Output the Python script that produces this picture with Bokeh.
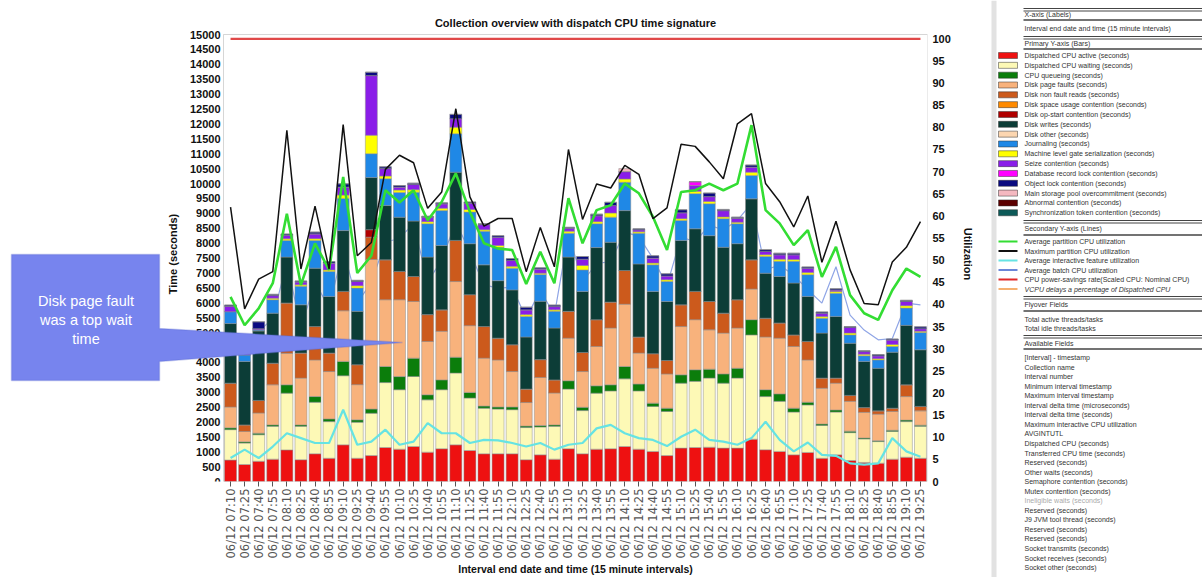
import math
from bokeh.plotting import figure
from bokeh.models import (Range1d, LinearAxis, FixedTicker, ColumnDataSource, PolyAnnotation, Label,
                          BoxAnnotation)
from bokeh.layouts import row
from bokeh.embed import file_html
from bokeh.resources import INLINE
from bokeh.core.properties import value

times = ["07:10", "07:25", "07:40", "07:55", "08:10", "08:25", "08:40", "08:55", "09:10", "09:25",
         "09:40", "09:55", "10:10", "10:25", "10:40", "10:55", "11:10", "11:25", "11:40", "11:55",
         "12:10", "12:25", "12:40", "12:55", "13:10", "13:25", "13:40", "13:55", "14:10", "14:25",
         "14:40", "14:55", "15:10", "15:25", "15:40", "15:55", "16:10", "16:25", "16:40", "16:55",
         "17:10", "17:25", "17:40", "17:55", "18:10", "18:25", "18:40", "18:55", "19:10", "19:25"]
labels = ["06/12 " + t for t in times]

# ---- bar segments (seconds) ----
cpu_active = [720, 570, 680, 750, 1060, 730, 930, 780, 1230, 780,
              870, 1140, 1085, 1175, 985, 1100, 1230, 1040, 930, 930,
              930, 730, 895, 750, 1100, 930, 1085, 1100, 1175, 1085,
              1005, 870, 1120, 1140, 1150, 1120, 1120, 1420, 1065, 1010,
              895, 975, 780, 895, 705, 640, 615, 750, 815, 780]
cpu_waiting = [1020, 720, 890, 1100, 1905, 1120, 1730, 1230, 2320, 1210,
               1420, 2180, 1995, 2350, 1755, 1980, 2410, 1760, 1530, 1500,
               1480, 1080, 935, 1100, 2000, 1450, 1880, 1940, 2270, 1955,
               1515, 1480, 2180, 2220, 2320, 2180, 2350, 3500, 1785, 1680,
               1435, 1595, 1100, 1435, 935, 790, 725, 930, 1195, 1070]
cpu_queueing = [60, 40, 50, 50, 280, 50, 190, 90, 480, 80,
                140, 540, 440, 615, 170, 330, 530, 190, 70, 70,
                90, 50, 50, 50, 280, 110, 245, 205, 415, 230,
                110, 110, 280, 390, 300, 310, 330, 510, 230, 250,
                130, 90, 50, 70, 50, 30, 30, 40, 50, 40]
page_faults = [700, 350, 680, 1345, 1055, 1570, 1230, 1590, 1700, 1180,
               5020, 2240, 2580, 1900, 1790, 1630, 2540, 2240, 1610, 1580,
               1190, 790, 1610, 1070, 1430, 1200, 1320, 1905, 2090, 1040,
               1170, 1150, 1620, 1680, 1320, 1370, 1350, 1030, 1770, 1870,
               2070, 1420, 1200, 900, 1000, 860, 890, 630, 790, 480]
non_fault_reads = [800, 220, 420, 725, 1690, 840, 1120, 620, 650, 670,
                   750, 1340, 950, 840, 900, 720, 1380, 1040, 1060, 730,
                   900, 450, 600, 440, 900, 640, 900, 870, 1130, 540,
                   490, 450, 730, 950, 950, 670, 950, 980, 630, 510,
                   390, 620, 340, 170, 200, 160, 110, 110, 395, 150]
op_start = [0, 0, 0, 0, 0, 0, 0, 0, 0, 0,
            250, 0, 0, 0, 0, 0, 0, 0, 0, 0,
            0, 0, 0, 0, 0, 0, 0, 0, 0, 0,
            0, 0, 0, 0, 0, 0, 0, 0, 0, 0,
            0, 0, 0, 0, 0, 0, 0, 0, 0, 0]
disk_writes = [2000, 2130, 2330, 1680, 1540, 1620, 1960, 1900, 2040, 1790,
               1750, 1820, 1820, 1860, 1930, 2160, 2290, 1710, 2070, 1930,
               1840, 1750, 1960, 1740, 1820, 2050, 2420, 2010, 2010, 2450,
               2090, 1980, 2160, 2100, 2210, 2210, 1880, 2045, 1510, 1560,
               1740, 1510, 1510, 2070, 1750, 1550, 1430, 1880, 1995, 1900]
journaling = [400, 220, 40, 450, 560, 620, 930, 840, 1080, 780,
              800, 900, 830, 970, 1120, 1170, 1290, 1060, 1130, 1110,
              730, 690, 900, 560, 800, 720, 800, 840, 950, 1030,
              890, 670, 670, 1180, 1070, 960, 670, 785, 560, 510,
              730, 730, 500, 780, 280, 190, 280, 190, 580, 580]
gate_serial = [0, 0, 0, 50, 55, 50, 60, 50, 110, 80,
               620, 90, 80, 80, 70, 80, 220, 90, 50, 70,
               60, 60, 40, 50, 70, 150, 70, 140, 110, 50,
               60, 60, 60, 80, 80, 60, 50, 110, 60, 70,
               60, 70, 60, 60, 60, 50, 40, 70, 80, 40]
seize = [180, 80, 40, 90, 115, 100, 160, 230, 270, 145,
         2000, 250, 100, 175, 150, 150, 285, 210, 170, 280,
         200, 160, 140, 110, 100, 210, 200, 250, 250, 70,
         170, 130, 200, 190, 160, 210, 130, 170, 110, 150,
         160, 150, 110, 50, 190, 90, 100, 150, 140, 90]
db_lock = [0, 0, 0, 0, 0, 0, 0, 0, 0, 0,
           0, 0, 0, 0, 0, 0, 0, 0, 0, 0,
           0, 0, 0, 0, 0, 0, 0, 0, 0, 0,
           0, 0, 0, 130, 0, 0, 0, 0, 0, 0,
           0, 0, 0, 0, 0, 0, 0, 0, 0, 0]
object_lock = [40, 30, 230, 40, 45, 30, 60, 50, 110, 35,
               115, 60, 50, 45, 30, 30, 145, 40, 30, 50,
               60, 90, 40, 50, 30, 90, 50, 110, 0, 30,
               75, 70, 100, 0, 120, 40, 40, 70, 60, 50,
               50, 40, 40, 40, 30, 30, 40, 30, 40, 60]
storage_pool = [0, 0, 0, 0, 0, 0, 0, 0, 0, 0,
                0, 0, 0, 0, 0, 0, 0, 0, 0, 0,
                0, 0, 0, 0, 0, 0, 0, 0, 100, 0,
                0, 0, 0, 0, 0, 0, 0, 0, 0, 0,
                0, 0, 0, 0, 0, 0, 0, 0, 0, 0]

# ---- lines (utilization %) ----
avg_partition = [41.7, 35.3, 39.1, 44.8, 60.5, 44.4, 53.8, 47.8, 68.8, 47.1,
                 51.0, 65.8, 63.0, 65.8, 59.0, 63.2, 69.6, 60.9, 53.8, 52.6,
                 52.3, 44.6, 51.9, 44.8, 64.0, 53.8, 61.3, 62.4, 67.3, 65.1,
                 59.8, 52.3, 65.4, 65.8, 67.3, 65.8, 67.3, 80.5, 61.3, 58.3,
                 53.4, 56.8, 46.2, 53.0, 42.1, 38.0, 36.5, 43.2, 48.1, 46.2]
max_partition = [62.0, 39.0, 45.7, 47.4, 79.3, 48.0, 62.2, 48.0, 80.6, 51.0,
                 54.0, 70.5, 73.7, 72.0, 61.7, 65.4, 84.2, 64.3, 57.7, 59.4,
                 59.4, 47.4, 57.4, 48.5, 75.0, 59.2, 67.2, 66.3, 71.4, 69.4,
                 59.4, 61.8, 76.2, 75.7, 72.2, 68.4, 80.8, 83.1, 67.3, 63.2,
                 57.5, 64.5, 49.5, 58.8, 47.8, 40.2, 39.9, 49.6, 52.9, 58.7]
avg_interactive = [5.3, 7.2, 5.3, 7.9, 10.9, 9.8, 8.7, 8.7, 16.2, 8.3,
                   9.0, 11.7, 8.3, 9.0, 13.2, 10.9, 10.9, 8.7, 9.4, 9.3,
                   8.7, 7.9, 8.7, 7.2, 8.3, 8.7, 12.0, 12.8, 10.9, 9.8,
                   9.4, 8.0, 10.1, 11.7, 9.4, 9.0, 8.3, 9.8, 13.5, 9.4,
                   6.8, 8.8, 6.0, 5.8, 4.1, 3.8, 4.1, 9.8, 6.8, 5.6]
avg_batch = [36.4, 28.1, 33.8, 36.9, 49.6, 34.6, 45.1, 39.1, 52.6, 40.3,
             45.0, 54.1, 54.9, 58.3, 45.1, 50.0, 58.7, 51.8, 44.4, 43.7,
             43.9, 36.9, 43.2, 37.6, 56.0, 45.1, 49.3, 49.6, 56.4, 55.3,
             50.4, 44.3, 55.3, 54.1, 57.9, 56.8, 59.0, 62.8, 47.8, 48.9,
             46.6, 43.3, 40.3, 48.5, 37.6, 34.2, 32.0, 32.3, 40.3, 39.9]
power_savings = [100] * 50

bar_legend = ["Dispatched CPU active (seconds)", "Dispatched CPU waiting (seconds)", "CPU queueing (seconds)",
              "Disk page faults (seconds)", "Disk non fault reads (seconds)", "Disk space usage contention (seconds)",
              "Disk op-start contention (seconds)", "Disk writes (seconds)", "Disk other (seconds)",
              "Journaling (seconds)", "Machine level gate serialization (seconds)", "Seize contention (seconds)",
              "Database record lock contention (seconds)", "Object lock contention (seconds)",
              "Main storage pool overcommitment (seconds)", "Abnormal contention (seconds)",
              "Synchronization token contention (seconds)"]
bar_colors = ["#ee1111", "#fdf9b6", "#0b7d0b", "#f8b27c", "#cc5a1c", "#ff8a00", "#b00000", "#0c3d37",
              "#fcd6b0", "#1f88e6", "#ffff00", "#8a1de8", "#ff00ff", "#0a0a80", "#f4b8c0", "#5c0000", "#0c5a58"]
line_legend = ["Average partition CPU utilization", "Maximum partition CPU utilization",
               "Average interactive feature utilization", "Average batch CPU utilization",
               "CPU power-savings rate(Scaled CPU: Nominal CPU)", "VCPU delays a percentage of Dispatched CPU"]
line_colors = ["#33dd33", "#111111", "#66e3e3", "#6a86d8", "#e02828", "#f5b070"]
avail_fields = ["[Interval] - timestamp", "Collection name", "Interval number", "Minimum interval timestamp",
                "Maximum interval timestamp", "Interval delta time (microseconds)", "Interval delta time (seconds)",
                "Maximum interactive CPU utilization", "AVGINTUTL", "Dispatched CPU (seconds)",
                "Transferred CPU time (seconds)", "Reserved (seconds)", "Other waits (seconds)",
                "Semaphore contention (seconds)", "Mutex contention (seconds)", "Ineligible waits (seconds)",
                "Reserved (seconds)", "J9 JVM tool thread (seconds)", "Reserved (seconds)", "Reserved (seconds)",
                "Socket transmits (seconds)", "Socket receives (seconds)", "Socket other (seconds)"]

# ---------------- layout constants (page pixels) ----------------
FONT = "Liberation Sans"
PXU = 14.08            # px per category
AX_LEFT = 223          # page x of the left axis
F_TOP, F_BOT = 34, 481 # page y of the 15000 / 0 lines
FRAME_TOP = 26         # frame starts a little above the 15000 line so its tick label is not cut
x_start = -0.5 - AX_LEFT / PXU
y_end = 15000 * (F_BOT - FRAME_TOP) / (F_BOT - F_TOP)
u_end = 100 * (F_BOT - FRAME_TOP) / (F_BOT - 38.3)

def dx(px):
    return -0.5 + (px - AX_LEFT) / PXU

def dy(py):
    return (F_BOT - py) / (F_BOT - F_TOP) * 15000

idx = list(range(len(labels)))

p = figure(width=985, height=577, x_range=Range1d(x_start, 49.5), y_range=Range1d(0, y_end),
           toolbar_location=None, output_backend="svg", y_axis_location=None,
           min_border_left=0, min_border_right=58, min_border_top=FRAME_TOP, min_border_bottom=577 - F_BOT)
p.frame_align = False
p.grid.visible = False
p.outline_line_color = None
p.background_fill_color = "white"
p.extra_y_ranges = {"util": Range1d(0, u_end)}

# plot-area border
p.add_layout(BoxAnnotation(left=-0.5, right=49.5, bottom=0, top=15000, fill_alpha=0,
                           line_color="#777777", line_width=1, level="underlay"))

# batch line sits behind the bars
p.line(idx, avg_batch, y_range_name="util", line_color="#8fa5e6", line_width=1.2)

stack_keys = ["cpu_active", "cpu_waiting", "cpu_queueing", "page_faults", "non_fault_reads", "op_start",
              "disk_writes", "journaling", "gate_serial", "seize", "db_lock", "object_lock", "storage_pool"]
stack_cols = [bar_colors[i] for i in [0, 1, 2, 3, 4, 6, 7, 9, 10, 11, 12, 13, 14]]
src = ColumnDataSource(dict(x=idx, cpu_active=cpu_active, cpu_waiting=cpu_waiting, cpu_queueing=cpu_queueing,
                            page_faults=page_faults, non_fault_reads=non_fault_reads, op_start=op_start,
                            disk_writes=disk_writes, journaling=journaling, gate_serial=gate_serial,
                            seize=seize, db_lock=db_lock, object_lock=object_lock, storage_pool=storage_pool))
p.vbar_stack(stack_keys, x="x", width=0.85, source=src, fill_color=stack_cols,
             line_color="#8c8c8c", line_width=0.5)

p.line(idx, avg_interactive, y_range_name="util", line_color="#66e3e3", line_width=2.2)
p.line(idx, avg_partition, y_range_name="util", line_color="#33dd33", line_width=2.6)
p.line(idx, max_partition, y_range_name="util", line_color="#111111", line_width=1.5)
p.line(idx, power_savings, y_range_name="util", line_color="#e04848", line_width=2.2)

left = LinearAxis(fixed_location=-0.5, axis_label="Time (seconds)",
                  ticker=FixedTicker(ticks=list(range(0, 15001, 500))))
p.add_layout(left, "left")
right = LinearAxis(y_range_name="util", axis_label="Utilization", ticker=FixedTicker(ticks=list(range(0, 101, 5))))
p.add_layout(right, "right")
for ax in (left, right):
    ax.major_label_text_font = FONT
    ax.major_label_text_font_size = "11px"
    ax.major_label_text_font_style = "bold"
    ax.major_label_text_color = "#111111"
    ax.major_tick_line_color = None
    ax.minor_tick_line_color = None
    ax.major_tick_out = 0
    ax.major_tick_in = 0
    ax.minor_tick_out = 0
    ax.axis_line_color = None
    ax.major_label_standoff = 3
    ax.axis_label_standoff = 8
    ax.axis_label_text_font = FONT
    ax.axis_label_text_font_size = "11px"
    ax.axis_label_text_font_style = "bold"
    ax.axis_label_text_color = "#111111"
right.major_label_standoff = 5

xa = p.xaxis[0]
xa.ticker = FixedTicker(ticks=idx)
xa.major_label_overrides = {i: lab for i, lab in enumerate(labels)}
xa.major_label_orientation = math.pi / 2
xa.major_label_text_font = "DejaVu Sans"
xa.major_label_text_font_size = "11.5px"
xa.major_label_text_color = "#555555"
xa.major_tick_out = 5
xa.major_tick_in = 0
xa.major_tick_line_color = "#555555"
xa.minor_tick_line_color = None
xa.axis_line_color = None
xa.major_label_standoff = 2

p.add_layout(Label(x=24.5, y=dy(568), text="Interval end date and time (15 minute intervals)",
                   text_align="center", text_baseline="middle", text_font=FONT, text_font_size="10.5px",
                   text_font_style="bold", text_color="#111111"), "below")
p.add_layout(Label(x=24.5, y=dy(22), text="Collection overview with dispatch CPU time signature",
                   text_align="center", text_baseline="middle", text_font=FONT, text_font_size="11px",
                   text_font_style="bold", text_color="#111111"), "above")

# callout
cx = [11, 159, 159, 402, 159, 159, 11]
cy = [254, 254, 328, 342, 361, 380, 380]
p.add_layout(PolyAnnotation(xs=[dx(v) for v in cx], ys=[dy(v) for v in cy], fill_color="#7784ee",
                            fill_alpha=1.0, line_color="#5566cc", line_width=1.5))
for txt, yy in [("Disk page fault", 300), ("was a top wait", 319), ("time", 338)]:
    p.add_layout(Label(x=dx(85.5), y=dy(yy), text=txt, text_align="center", text_baseline="middle",
                       text_color="white", text_font_size="14.5px", text_font=FONT))

# ---------------- field panel ----------------
pn = figure(width=217, height=577, x_range=Range1d(985, 1202), y_range=Range1d(577, 0),
            toolbar_location=None, output_backend="svg", x_axis_type=None, y_axis_type=None, min_border=0)
pn.frame_align = False
pn.outline_line_color = None
pn.grid.visible = False
pn.quad(left=991, right=996, bottom=577, top=0, fill_color="#e2e2e2", line_color=None)

dbl = [8, 36, 220, 296, 335]
sgl = [19.5, 48.5, 234.5, 310.5, 348.5]
for yv in dbl:
    pn.segment(x0=1023, x1=1202, y0=yv, y1=yv, line_color="#444444", line_width=1)
    pn.segment(x0=1023, x1=1202, y0=yv + 2.5, y1=yv + 2.5, line_color="#444444", line_width=1)
for yv in sgl:
    pn.segment(x0=1023, x1=1202, y0=yv, y1=yv, line_color="#444444", line_width=1.6)

TF = value(FONT)
def ptext(x, y, t, color="#333333", style="normal"):
    pn.text(x=x, y=y, text=t, text_font=TF, text_font_size="7px", text_baseline="middle",
            text_color=color, text_font_style=style)

heads = [("X-axis (Labels)", 14), ("Interval end date and time (15 minute intervals)", 28),
         ("Primary Y-axis (Bars)", 43), ("Secondary Y-axis (Lines)", 228), ("Flyover Fields", 304),
         ("Total active threads/tasks", 318.5), ("Total idle threads/tasks", 327.5), ("Available Fields", 342.5)]
ptext([1024] * len(heads), [h[1] for h in heads], [h[0] for h in heads])

by = [55 + 9.83 * k for k in range(len(bar_legend))]
pn.quad(left=998, right=1017, top=[y - 3 for y in by], bottom=[y + 3 for y in by], fill_color=bar_colors,
        line_color="#333333", line_width=0.5)
ptext([1024] * len(by), by, bar_legend)

ly = [241 + 9.5 * k for k in range(len(line_legend))]
pn.segment(x0=998, x1=1017, y0=ly, y1=ly, line_color=line_colors, line_width=2)
ptext([1024] * 5, ly[:5], line_legend[:5])
ptext([1024], [ly[5]], [line_legend[5]], style="italic")

ay = [357 + 9.55 * k for k in range(len(avail_fields))]
acol = ["#aaaaaa" if f.startswith("Ineligible") else "#333333" for f in avail_fields]
pn.text(x=[1024] * len(ay), y=ay, text=avail_fields, text_font=TF, text_font_size="7px",
        text_baseline="middle", text_color=acol)

layout = row(p, pn)
open("out.html", "w").write(file_html(layout, INLINE))
